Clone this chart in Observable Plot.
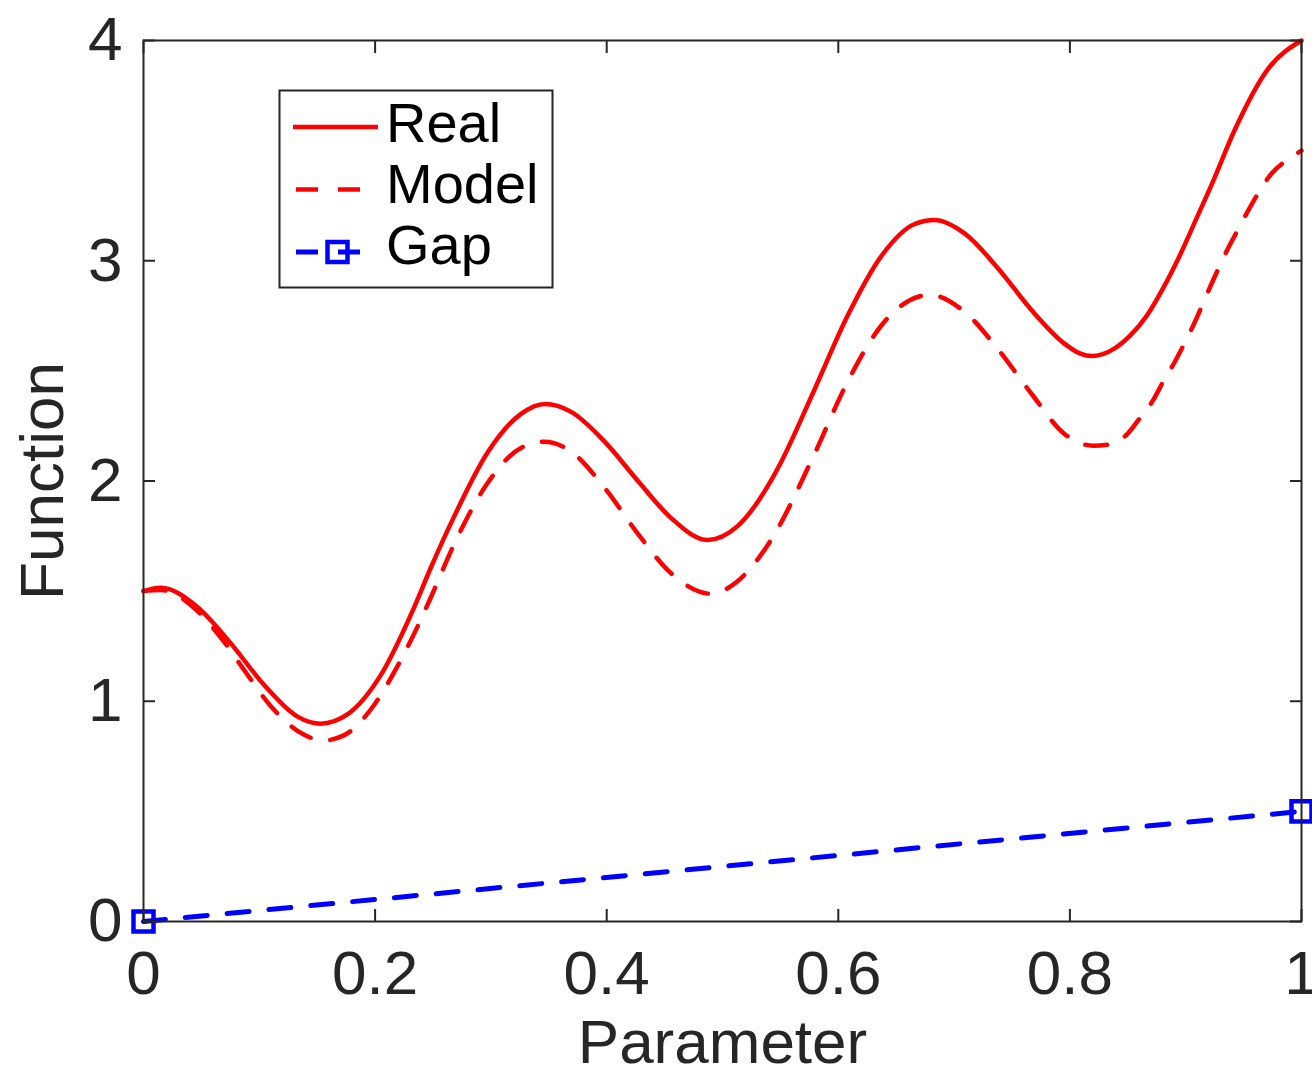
<!DOCTYPE html>
<html>
<head>
<meta charset="utf-8">
<script src="https://cdn.jsdelivr.net/npm/d3@7"></script>
<script src="https://cdn.jsdelivr.net/npm/@observablehq/plot@0.6"></script>
<style>
  html, body { margin: 0; padding: 0; background: #fff; }
  #chart svg { display: block; }
</style>
</head>
<body>
<div id="chart"></div>
<script>
// Sampled curves: real response and model prediction over the parameter range
const realX = [0, 0.015, 0.046, 0.075, 0.104, 0.133, 0.153, 0.176, 0.205, 0.234, 0.248, 0.268, 0.297, 0.326, 0.347, 0.369, 0.398, 0.427, 0.455, 0.487, 0.513, 0.542, 0.551, 0.579, 0.608, 0.637, 0.666, 0.683, 0.709, 0.738, 0.767, 0.795, 0.809, 0.819, 0.838, 0.852, 0.867, 0.881, 0.895, 0.910, 0.924, 0.942, 0.971, 1];
const realY = [1.50, 1.515, 1.43, 1.265, 1.075, 0.93, 0.898, 0.94, 1.12, 1.43, 1.605, 1.836, 2.128, 2.305, 2.35, 2.315, 2.18, 2.0, 1.835, 1.732, 1.795, 2.003, 2.09, 2.41, 2.75, 3.02, 3.167, 3.185, 3.124, 2.965, 2.775, 2.625, 2.578, 2.567, 2.60, 2.66, 2.755, 2.88, 3.025, 3.20, 3.365, 3.59, 3.87, 4.0];

const modelX = [0, 0.015, 0.046, 0.069, 0.089, 0.110, 0.138, 0.155, 0.173, 0.199, 0.219, 0.239, 0.248, 0.268, 0.297, 0.326, 0.346, 0.369, 0.398, 0.427, 0.455, 0.490, 0.513, 0.542, 0.577, 0.608, 0.637, 0.679, 0.709, 0.738, 0.767, 0.795, 0.809, 0.820, 0.834, 0.849, 0.861, 0.872, 0.880, 0.891, 0.907, 0.921, 0.936, 0.944, 0.954, 0.963, 0.974, 0.988, 1];
const modelY = [1.50, 1.505, 1.413, 1.274, 1.126, 0.977, 0.85, 0.822, 0.845, 0.982, 1.156, 1.365, 1.47, 1.71, 1.99, 2.15, 2.178, 2.135, 1.97, 1.76, 1.584, 1.488, 1.545, 1.733, 2.095, 2.45, 2.705, 2.845, 2.768, 2.598, 2.395, 2.215, 2.172, 2.16, 2.166, 2.21, 2.29, 2.368, 2.446, 2.545, 2.712, 2.88, 3.05, 3.13, 3.228, 3.31, 3.395, 3.459, 3.50];

// Gap between the two, drawn as a marked straight line
const gapX = [0, 1];
const gapY = [0, 0.5];

const seriesNames = ["Real", "Model", "Gap"];
const xTicks = [0, 0.2, 0.4, 0.6, 0.8, 1];
const xTickLabels = ["0", "0.2", "0.4", "0.6", "0.8", "1"];
const yTicks = [0, 1, 2, 3, 4];
const yTickLabels = ["0", "1", "2", "3", "4"];
const xLabel = "Parameter";
const yLabel = "Function";

const toPoints = (xs, ys) => xs.map((x, i) => ({x, y: ys[i]}));
const real = toPoints(realX, realY);
const model = toPoints(modelX, modelY);
const gap = toPoints(gapX, gapY);

const axisColor = "#262626";
const font = "'Liberation Sans', Arial, Helvetica, sans-serif";
const red = "#ff0000";
const blue = "#0000ff";
const dash = "22,20";

const tickOnly = {tickSize: 12, fill: "none", stroke: axisColor, strokeWidth: 2, label: null};
const textOnly = {tickSize: 0, fill: axisColor, fontSize: 62, label: null};

const chart = Plot.plot({
  width: 1312,
  height: 1066,
  marginLeft: 143,
  marginRight: 11,
  marginTop: 40,
  marginBottom: 145,
  style: {fontFamily: font, fontSize: "62px", background: "#fff", color: axisColor},
  x: {domain: [0, 1]},
  y: {domain: [0, 4]},
  marks: [
    // data (monotone-x respects the uneven sample spacing)
    Plot.line(real, {x: "x", y: "y", stroke: red, strokeWidth: 4.5, curve: "monotone-x"}),
    Plot.line(model, {x: "x", y: "y", stroke: red, strokeWidth: 4.5, strokeDasharray: dash, curve: "monotone-x"}),
    Plot.line(gap, {x: "x", y: "y", stroke: blue, strokeWidth: 5, strokeDasharray: dash}),
    Plot.dot(gap, {x: "x", y: "y", symbol: "square", r: 11.3, stroke: blue, strokeWidth: 4.5, fill: "none"}),

    // box and inward ticks on all four sides
    Plot.frame({stroke: axisColor, strokeWidth: 2}),
    Plot.axisX(xTicks, {...tickOnly, anchor: "bottom", dy: -12}),
    Plot.axisX(xTicks, {...tickOnly, anchor: "top", dy: 12}),
    Plot.axisY(yTicks, {...tickOnly, anchor: "left", dx: 12}),
    Plot.axisY(yTicks, {...tickOnly, anchor: "right", dx: -12}),

    // tick labels
    Plot.axisX(xTicks, {...textOnly, anchor: "bottom", tickPadding: 28,
      tickFormat: d => xTickLabels[xTicks.indexOf(d)]}),
    Plot.axisY(yTicks, {...textOnly, anchor: "left", tickPadding: 21,
      tickFormat: d => yTickLabels[yTicks.indexOf(d)]}),

    // axis titles
    Plot.text([xLabel], {frameAnchor: "bottom", dy: 141, textAnchor: "middle", lineAnchor: "bottom", fontSize: 62, fill: axisColor}),
    Plot.text([yLabel], {frameAnchor: "left", dx: -81, rotate: -90, textAnchor: "middle", lineAnchor: "bottom", fontSize: 62, fill: axisColor})
  ]
});

document.getElementById("chart").appendChild(chart);

// Boxed legend in the upper-left corner of the axes
const legendStyles = [
  {stroke: red, width: 4.5, dasharray: null, marker: false, x1: 293},
  {stroke: red, width: 4.5, dasharray: dash, marker: false, x1: 296},
  {stroke: blue, width: 5, dasharray: dash, marker: true, x1: 296}
];
const svg = d3.select(chart);
const legend = svg.append("g").attr("font-family", font);
legend.append("rect")
  .attr("x", 279.5).attr("y", 90.5)
  .attr("width", 273).attr("height", 197)
  .attr("fill", "#fff")
  .attr("stroke", axisColor)
  .attr("stroke-width", 2);

seriesNames.forEach((name, i) => {
  const s = legendStyles[i];
  const rowLine = 127 + i * 62.5;
  const rowText = 142 + i * 61;
  legend.append("line")
    .attr("x1", s.x1).attr("x2", 378)
    .attr("y1", rowLine).attr("y2", rowLine)
    .attr("stroke", s.stroke)
    .attr("stroke-width", s.width)
    .attr("stroke-dasharray", s.dasharray);
  if (s.marker) {
    legend.append("rect")
      .attr("x", 327.5).attr("y", rowLine - 10)
      .attr("width", 20).attr("height", 20)
      .attr("fill", "none")
      .attr("stroke", s.stroke)
      .attr("stroke-width", 4.5);
  }
  legend.append("text")
    .attr("x", 386).attr("y", rowText)
    .attr("text-anchor", "start")
    .attr("font-size", 56)
    .attr("fill", "#000")
    .text(name);
});
</script>
</body>
</html>
